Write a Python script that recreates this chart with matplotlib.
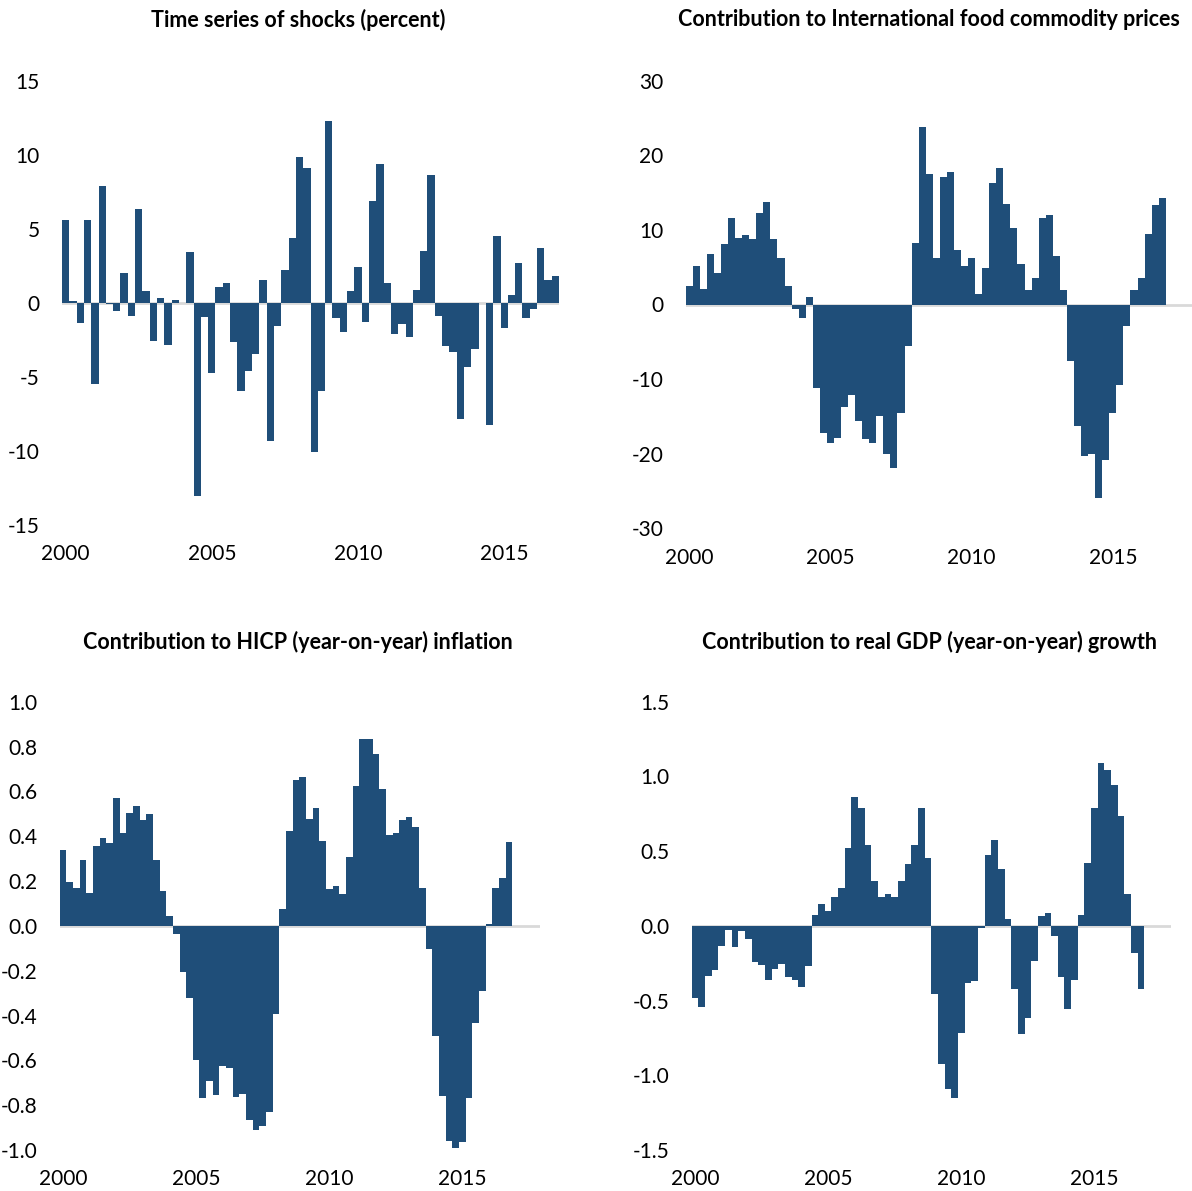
import numpy as np
import matplotlib
matplotlib.use("Agg")
import matplotlib.pyplot as plt

plt.rcParams['font.family'] = ['Lato', 'DejaVu Sans']
plt.rcParams['axes.unicode_minus'] = False

# quarterly data, 2000Q1 - 2016Q4
start_year = 2000
shocks = [5.6, 0.1, -1.4, 5.6, -5.5, 7.9, -0.1, -0.6, 2.0, -0.9,
          6.3, 0.8, -2.6, 0.3, -2.85, 0.2, 0.0, 3.4, -13.1, -1.0,
          -4.75, 1.05, 1.3, -2.65, -5.95, -4.6, -3.45, 1.5, -9.35, -1.55,
          2.2, 4.4, 9.85, 9.1, -10.1, -6.0, 12.3, -1.05, -2.0, 0.8,
          2.4, -1.3, 6.85, 9.35, 1.35, -2.1, -1.45, -2.35, 0.85, 3.5,
          8.65, -0.9, -2.95, -3.35, -7.9, -4.35, -3.15, 0.0, -8.25, 4.5,
          -1.75, 0.5, 2.7, -1.05, -0.4, 3.7, 1.55, 1.8]
food = [2.5, 5.2, 2.05, 6.8, 4.25, 8.1, 11.6, 8.9, 9.3, 8.8,
        12.2, 13.8, 8.8, 6.25, 2.5, -0.65, -1.8, 1.0, -11.2, -17.2,
        -18.5, -17.9, -13.8, -12.1, -15.6, -18.0, -18.6, -14.9, -20.1, -21.9,
        -14.5, -5.6, 8.2, 23.8, 17.5, 6.2, 17.1, 17.7, 7.3, 5.1,
        6.25, 1.45, 4.95, 16.25, 18.3, 13.5, 10.2, 5.45, 2.0, 3.5,
        11.6, 12.0, 6.5, 1.9, -7.6, -16.3, -20.3, -20.1, -26.0, -20.8,
        -14.5, -10.8, -2.9, 2.0, 3.5, 9.4, 13.4, 14.3]
hicp = [0.34, 0.195, 0.17, 0.295, 0.145, 0.355, 0.39, 0.37, 0.57, 0.415,
        0.505, 0.535, 0.47, 0.5, 0.295, 0.155, 0.045, -0.035, -0.205, -0.32,
        -0.6, -0.77, -0.69, -0.755, -0.625, -0.635, -0.765, -0.75, -0.865, -0.91,
        -0.895, -0.83, -0.395, 0.075, 0.425, 0.65, 0.665, 0.475, 0.525, 0.38,
        0.165, 0.18, 0.14, 0.305, 0.625, 0.835, 0.835, 0.765, 0.61, 0.405,
        0.415, 0.47, 0.485, 0.44, 0.17, -0.105, -0.49, -0.76, -0.96, -0.99,
        -0.965, -0.77, -0.435, -0.29, 0.007, 0.17, 0.215, 0.375]
gdp = [-0.48, -0.54, -0.335, -0.295, -0.135, -0.03, -0.14, -0.035, -0.09, -0.24,
       -0.265, -0.365, -0.29, -0.255, -0.345, -0.365, -0.41, -0.27, 0.075, 0.145,
       0.1, 0.195, 0.255, 0.52, 0.865, 0.79, 0.54, 0.3, 0.19, 0.21,
       0.195, 0.3, 0.415, 0.54, 0.79, 0.455, -0.455, -0.925, -1.095, -1.155,
       -0.72, -0.38, -0.37, -0.015, 0.475, 0.575, 0.38, 0.045, -0.42, -0.725,
       -0.615, -0.235, 0.065, 0.085, -0.065, -0.34, -0.555, -0.36, 0.075, 0.42,
       0.79, 1.09, 1.045, 0.945, 0.735, 0.21, -0.18, -0.42]

year_labels = [2000, 2005, 2010, 2015]
titles = ["Time series of shocks (percent)",
          "Contribution to International food commodity prices",
          "Contribution to HICP (year-on-year) inflation",
          "Contribution to real GDP (year-on-year) growth"]

bar_color = '#1f4e79'
W, H = 1192, 1191

fig = plt.figure(figsize=(W / 100, H / 100), dpi=100)

# (left, right, top, bottom) in pixels, xlim right end, y ticks, format, title pos
panels = [
    (shocks, (62, 559, 80.7, 524.5), 2017.0, np.arange(-15, 16, 5), '%d', (298, 20)),
    (food, (685.7, 1192, 80.7, 528.3), 2017.93, np.arange(-30, 31, 10), '%d', (929, 20)),
    (hicp, (59.7, 539.5, 701.7, 1150), 2018.02, np.linspace(-1, 1, 11), '%.1f', (298, 642)),
    (gdp, (691.7, 1171, 701.7, 1150), 2018.0, np.linspace(-1.5, 1.5, 7), '%.1f', (930, 642)),
]

for (vals, (l, r, t, b), xmax, yt, fmt, (tx, ty)), title in zip(panels, titles):
    ax = fig.add_axes([l / W, 1 - b / H, (r - l) / W, (b - t) / H])
    x = start_year + np.arange(len(vals)) * 0.25
    ax.bar(x, vals, width=0.25, align='edge', color=bar_color, linewidth=0, zorder=2)
    ax.axhline(0, color='#d9d9d9', lw=2, zorder=1)
    ax.set_xlim(start_year, xmax)
    ax.set_ylim(yt[0], yt[-1])
    ax.set_yticks(yt)
    ax.set_yticklabels([fmt % v for v in yt])
    ax.set_xticks([y + 0.125 for y in year_labels])
    ax.set_xticklabels([str(y) for y in year_labels])
    ax.tick_params(axis='y', length=0, pad=16, labelsize=15)
    ax.tick_params(axis='x', length=0, pad=14, labelsize=15)
    for s in ax.spines.values():
        s.set_visible(False)
    ax.patch.set_alpha(0)
    fig.text(tx / W, 1 - ty / H, title, ha='center', va='center',
             fontsize=15.5, fontweight='bold')

fig.savefig("out.png", dpi=100)
